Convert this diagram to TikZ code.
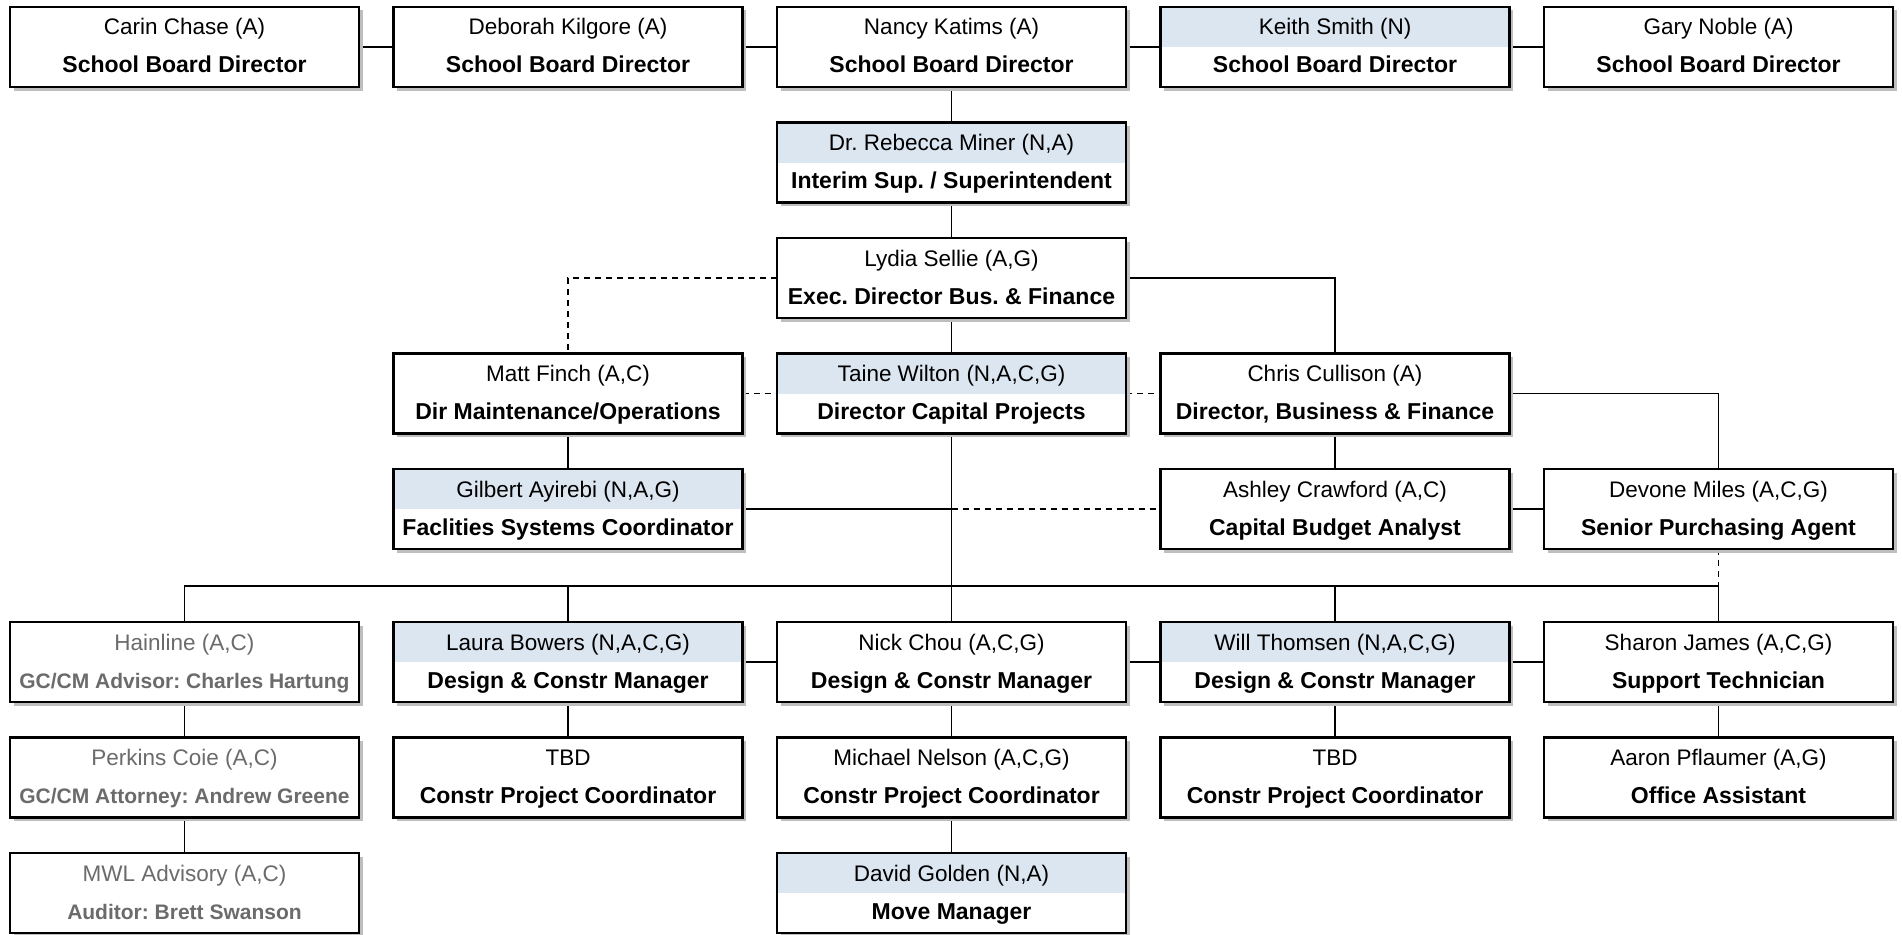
\documentclass[tikz,border=0pt]{standalone}
\usepackage{fontspec}
\setmainfont{Liberation Sans}
\usetikzlibrary{shadows,calc}
\pgfdeclarelayer{background}
\pgfsetlayers{background,main}
\definecolor{band}{HTML}{DCE6F1}
\definecolor{greytxt}{HTML}{6B6B6B}
\definecolor{shadowc}{HTML}{BEBEBE}
\frenchspacing
\tikzset{
  x=1pt, y=1pt,
  orgbox/.style={draw=black, line width=2.6pt, fill=white, minimum width=349pt,
    minimum height=80pt, inner sep=0pt, outer sep=0pt, anchor=north west,
    drop shadow={shadow xshift=3.5pt, shadow yshift=-3.5pt, fill=shadowc, opacity=1}},
  banded/.style={path picture={\fill[band] (path picture bounding box.north west)
    rectangle (path picture bounding box.east);}},
  nametext/.style={font=\fontsize{22.5}{27}\selectfont, inner sep=0pt, anchor=base},
  titletext/.style={font=\fontsize{23}{27}\selectfont\bfseries, inner sep=0pt, anchor=base},
  std name/.style={text=black},
  std title/.style={text=black},
  grey name/.style={text=greytxt},
  grey title/.style={text=greytxt, font=\fontsize{21}{25}\selectfont\bfseries},
  link/.style={line width=1.8pt, draw=black},
  dlink/.style={link, dash pattern=on 6pt off 5pt},
}
% #1 extra style, #2 name, #3 x, #4 y, #5 name line, #6 title, #7 kind (std/grey)
\newcommand\obox[7][]{%
  \node[orgbox,#1] (#2) at (#3,-#4) {};
  \node[nametext,#7 name] (#2-n) at ([yshift=-28pt]#2.north) {#5};
  \node[titletext,#7 title] (#2-t) at ([yshift=-66pt]#2.north) {#6};
}
\begin{document}
\begin{tikzpicture}
\useasboundingbox (0,0) rectangle (1902,-934);
% row 1
\obox{c1}{10}{7}{Carin Chase (A)}{School Board Director}{std}
\obox{c2}{393.5}{7}{Deborah Kilgore (A)}{School Board Director}{std}
\obox{c3}{777}{7}{Nancy Katims (A)}{School Board Director}{std}
\obox[banded]{c4}{1160.5}{7}{Keith Smith (N)}{School Board Director}{std}
\obox{c5}{1544}{7}{Gary Noble (A)}{School Board Director}{std}
% row 2-3
\obox[banded]{miner}{777}{122.5}{Dr. Rebecca Miner (N,A)}{Interim Sup. / Superintendent}{std}
\obox{sellie}{777}{238}{Lydia Sellie (A,G)}{Exec. Director Bus. \& Finance}{std}
% row 4
\obox{finch}{393.5}{353.5}{Matt Finch (A,C)}{Dir Maintenance/Operations}{std}
\obox[banded]{wilton}{777}{353.5}{Taine Wilton (N,A,C,G)}{Director Capital Projects}{std}
\obox{cull}{1160.5}{353.5}{Chris Cullison (A)}{Director, Business \& Finance}{std}
% row 5
\obox[banded]{ayi}{393.5}{469}{Gilbert Ayirebi (N,A,G)}{Faclities Systems Coordinator}{std}
\obox{craw}{1160.5}{469}{Ashley Crawford (A,C)}{Capital Budget Analyst}{std}
\obox{devone}{1544}{469}{Devone Miles (A,C,G)}{Senior Purchasing Agent}{std}
% row 6
\obox{hain}{10}{622}{Hainline (A,C)}{GC/CM Advisor: Charles Hartung}{grey}
\obox[banded]{laura}{393.5}{622}{Laura Bowers (N,A,C,G)}{Design \& Constr Manager}{std}
\obox{chou}{777}{622}{Nick Chou (A,C,G)}{Design \& Constr Manager}{std}
\obox[banded]{will}{1160.5}{622}{Will Thomsen (N,A,C,G)}{Design \& Constr Manager}{std}
\obox{sharon}{1544}{622}{Sharon James (A,C,G)}{Support Technician}{std}
% row 7
\obox{perk}{10}{737.5}{Perkins Coie (A,C)}{GC/CM Attorney: Andrew Greene}{grey}
\obox{tbda}{393.5}{737.5}{TBD}{Constr Project Coordinator}{std}
\obox{nelson}{777}{737.5}{Michael Nelson (A,C,G)}{Constr Project Coordinator}{std}
\obox{tbdb}{1160.5}{737.5}{TBD}{Constr Project Coordinator}{std}
\obox{aaron}{1544}{737.5}{Aaron Pflaumer (A,G)}{Office Assistant}{std}
% row 8
\obox{mwl}{10}{853}{MWL Advisory (A,C)}{Auditor: Brett Swanson}{grey}
\obox[banded]{golden}{777}{853}{David Golden (N,A)}{Move Manager}{std}
\coordinate (busy) at (0,-586);
\begin{pgfonlayer}{background}
  \draw[link] (c1.east) -- (c2.west);
  \draw[link] (c2.east) -- (c3.west);
  \draw[link] (c3.east) -- (c4.west);
  \draw[link] (c4.east) -- (c5.west);
  \draw[link] (c3.south) -- (miner.north);
  \draw[link] (miner.south) -- (sellie.north);
  \draw[dlink] (sellie.west) -| (finch.north);
  \draw[link] (sellie.east) -| (cull.north);
  \draw[link] (sellie.south) -- (wilton.north);
  \draw[dlink] (finch.east) -- (wilton.west);
  \draw[dlink] (wilton.east) -- (cull.west);
  \draw[link] (cull.east) -| (devone.north);
  \draw[link] (cull.south) -- (craw.north);
  \draw[link] (finch.south) -- (ayi.north);
  \coordinate (ayimid) at (ayi.east -| wilton.south);
  \draw[link] (ayi.east) -- (ayimid);
  \draw[dlink] (ayimid) -- (craw.west);
  \draw[link] (craw.east) -- (devone.west);
  \draw[link] (wilton.south) -- (chou.north);
  \draw[link] (hain.north) -- (hain.north |- busy) -- (sharon.north |- busy) -- (sharon.north);
  \draw[dlink] (devone.south) -- (devone.south |- busy);
  \draw[link] (laura.north) -- (laura.north |- busy);
  \draw[link] (will.north) -- (will.north |- busy);
  \draw[link] (laura.east) -- (chou.west);
  \draw[link] (chou.east) -- (will.west);
  \draw[link] (will.east) -- (sharon.west);
  \draw[link] (hain.south) -- (perk.north);
  \draw[link] (laura.south) -- (tbda.north);
  \draw[link] (chou.south) -- (nelson.north);
  \draw[link] (will.south) -- (tbdb.north);
  \draw[link] (sharon.south) -- (aaron.north);
  \draw[link] (perk.south) -- (mwl.north);
  \draw[link] (nelson.south) -- (golden.north);
\end{pgfonlayer}
\end{tikzpicture}
\end{document}
